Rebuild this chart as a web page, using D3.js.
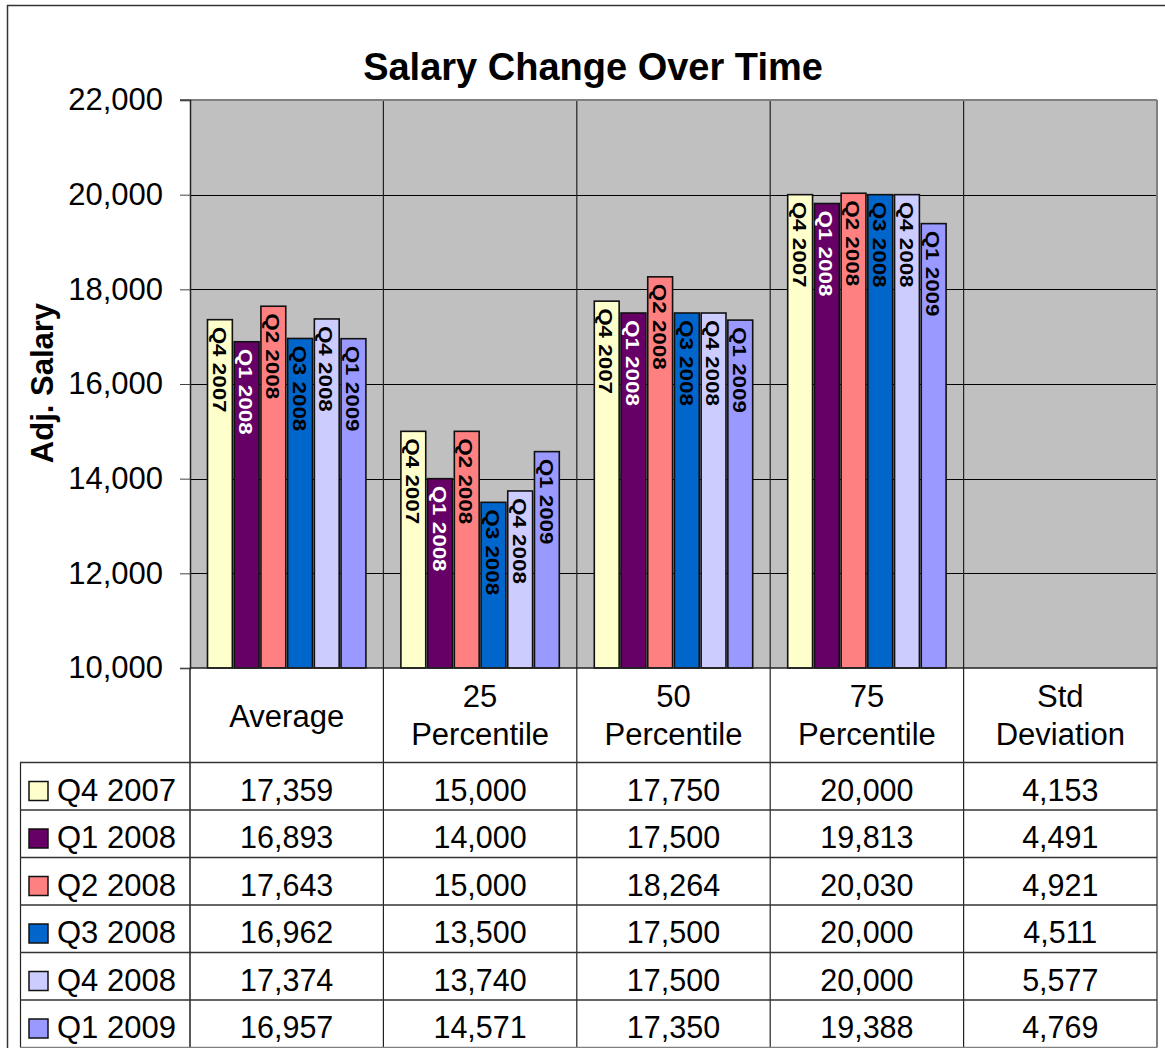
<!DOCTYPE html>
<html>
<head>
<meta charset="utf-8">
<script src="https://cdn.jsdelivr.net/npm/d3@7"></script>
<style>
  html, body { margin: 0; padding: 0; background: #fff; }
  svg { display: block; font-family: "Liberation Sans", Arial, sans-serif; }
</style>
</head>
<body>
<svg id="chart" width="1165" height="1048"></svg>
<script>
// ---- data ----
const categories = ["Average", "25\nPercentile", "50\nPercentile", "75\nPercentile", "Std\nDeviation"];
const series = ["Q4 2007", "Q1 2008", "Q2 2008", "Q3 2008", "Q4 2008", "Q1 2009"];
const q4_2007 = [17359, 15000, 17750, 20000, 4153];
const q1_2008 = [16893, 14000, 17500, 19813, 4491];
const q2_2008 = [17643, 15000, 18264, 20030, 4921];
const q3_2008 = [16962, 13500, 17500, 20000, 4511];
const q4_2008 = [17374, 13740, 17500, 20000, 5577];
const q1_2009 = [16957, 14571, 17350, 19388, 4769];
const seriesValues = [q4_2007, q1_2008, q2_2008, q3_2008, q4_2008, q1_2009];
const seriesColors = ["#FFFFCC", "#660066", "#FF8080", "#0066CC", "#CCCCFF", "#9999FF"];
const labelColors = ["#000", "#fff", "#000", "#000", "#000", "#000"];
const yTicks = [10000, 12000, 14000, 16000, 18000, 20000, 22000];
const titleText = "Salary Change Over Time";
const yTitle = "Adj. Salary";

// ---- layout ----
const svg = d3.select("#chart");
const L = 190, R = 1157, T = 100, B = 668;
const headerBottom = 762.5, rowH = 47.5;
const tableBottom = headerBottom + rowH * series.length;
const fmt = d3.format(",");

// outer border
svg.append("rect").attr("x", 7.5).attr("y", 5.5).attr("width", 1170).attr("height", 1060)
  .attr("fill", "#fff").attr("stroke", "#333").attr("stroke-width", 1.5);

const y = d3.scaleLinear().domain([10000, 22000]).range([B, T]);
const x0 = d3.scaleBand().domain(categories).range([L, R]).padding(0);
const x1 = d3.scaleBand().domain(series).range([17.5, x0.bandwidth() - 17.5]).paddingInner(0.07);

// plot background
svg.append("rect").attr("x", L).attr("y", T).attr("width", R - L).attr("height", B - T)
  .attr("fill", "#C0C0C0");

// gridlines
svg.append("g").selectAll("line").data(yTicks.filter(d => d > 10000 && d < 22000)).join("line")
  .attr("x1", L).attr("x2", R).attr("y1", d => Math.round(y(d)) + 0.5).attr("y2", d => Math.round(y(d)) + 0.5)
  .attr("stroke", "#000").attr("stroke-width", 1);

// category separators in plot
svg.append("g").selectAll("line").data(categories.slice(1)).join("line")
  .attr("x1", d => x0(d)).attr("x2", d => x0(d)).attr("y1", T).attr("y2", tableBottom)
  .attr("stroke", "#222").attr("stroke-width", 1.2);

// bars
const barData = [];
series.forEach((s, si) => {
  categories.forEach((c, ci) => {
    barData.push({ s, si, c, v: seriesValues[si][ci] });
  });
});
const visible = barData.filter(d => d.v > y.domain()[0]);
const gBars = svg.append("g");
gBars.selectAll("rect").data(visible).join("rect")
  .attr("x", d => x0(d.c) + x1(d.s))
  .attr("y", d => y(d.v))
  .attr("width", x1.bandwidth())
  .attr("height", d => y(10000) - y(d.v))
  .attr("fill", d => seriesColors[d.si])
  .attr("stroke", "#111").attr("stroke-width", 1.6);

gBars.selectAll("text").data(visible).join("text")
  .attr("transform", d => `translate(${x0(d.c) + x1(d.s) + x1.bandwidth() / 2 - 0.5},${y(d.v) + 7}) rotate(90) scale(1.12,0.95)`)
  .attr("dy", "0.36em")
  .attr("font-size", 20).attr("font-weight", "bold")
  .attr("fill", d => labelColors[d.si])
  .text(d => d.s);

// plot border (top/right gray)
svg.append("line").attr("x1", L - 10).attr("x2", R).attr("y1", T).attr("y2", T)
  .attr("stroke", "#808080").attr("stroke-width", 2);
svg.append("line").attr("x1", R).attr("x2", R).attr("y1", T).attr("y2", tableBottom)
  .attr("stroke", "#808080").attr("stroke-width", 2);

// y axis
const yAxis = d3.axisLeft(y).tickValues(yTicks).tickFormat(fmt).tickSize(10).tickPadding(17);
const gy = svg.append("g").attr("transform", `translate(${L},0)`).call(yAxis);
gy.select(".domain").attr("stroke", "#222").attr("stroke-width", 1.5);
gy.selectAll(".tick line").attr("stroke", "#444");
gy.selectAll(".tick text").attr("font-size", 31).attr("font-family", "Liberation Sans, Arial, sans-serif").attr("fill", "#000");

// x axis line
svg.append("line").attr("x1", L).attr("x2", R).attr("y1", B).attr("y2", B)
  .attr("stroke", "#222").attr("stroke-width", 1.5);

// y title
svg.append("text").attr("transform", `translate(53,383) rotate(-90)`)
  .attr("text-anchor", "middle").attr("font-size", 31).attr("font-weight", "bold").text(yTitle);

// title
svg.append("text").attr("x", 593).attr("y", 80).attr("text-anchor", "middle")
  .attr("font-size", 38).attr("font-weight", "bold").text(titleText);

// ---- data table ----
const tg = svg.append("g");
tg.append("line").attr("x1", L).attr("x2", L).attr("y1", B).attr("y2", tableBottom)
  .attr("stroke", "#222").attr("stroke-width", 1.5);
tg.append("line").attr("x1", 20.5).attr("x2", 20.5).attr("y1", headerBottom).attr("y2", tableBottom)
  .attr("stroke", "#222").attr("stroke-width", 1.2);
const rowLines = d3.range(series.length + 1).map(i => headerBottom + i * rowH);
tg.selectAll("line.row").data(rowLines).join("line").attr("class", "row")
  .attr("x1", 20).attr("x2", R).attr("y1", d => d).attr("y2", d => d)
  .attr("stroke", (d, i) => i === series.length ? "#808080" : "#333").attr("stroke-width", 1.3);

// header labels
categories.forEach(c => {
  const lines = c.split("\n");
  const cx = x0(c) + x0.bandwidth() / 2;
  const t = tg.append("text").attr("text-anchor", "middle").attr("font-size", 31);
  if (lines.length === 1) {
    t.append("tspan").attr("x", cx).attr("y", 727).text(lines[0]);
  } else {
    lines.forEach((ln, i) => t.append("tspan").attr("x", cx).attr("y", 707 + i * 38).text(ln));
  }
});

// rows
series.forEach((s, si) => {
  const top = headerBottom + si * rowH;
  tg.append("rect").attr("x", 29).attr("y", top + 19).attr("width", 19).attr("height", 19)
    .attr("fill", seriesColors[si]).attr("stroke", "#111").attr("stroke-width", 1.5);
  tg.append("text").attr("x", 57).attr("y", top + 38).attr("font-size", 31).text(s);
  categories.forEach((c, ci) => {
    tg.append("text").attr("x", x0(c) + x0.bandwidth() / 2).attr("y", top + 38)
      .attr("text-anchor", "middle").attr("font-size", 30.5).text(fmt(seriesValues[si][ci]));
  });
});
</script>
</body>
</html>
